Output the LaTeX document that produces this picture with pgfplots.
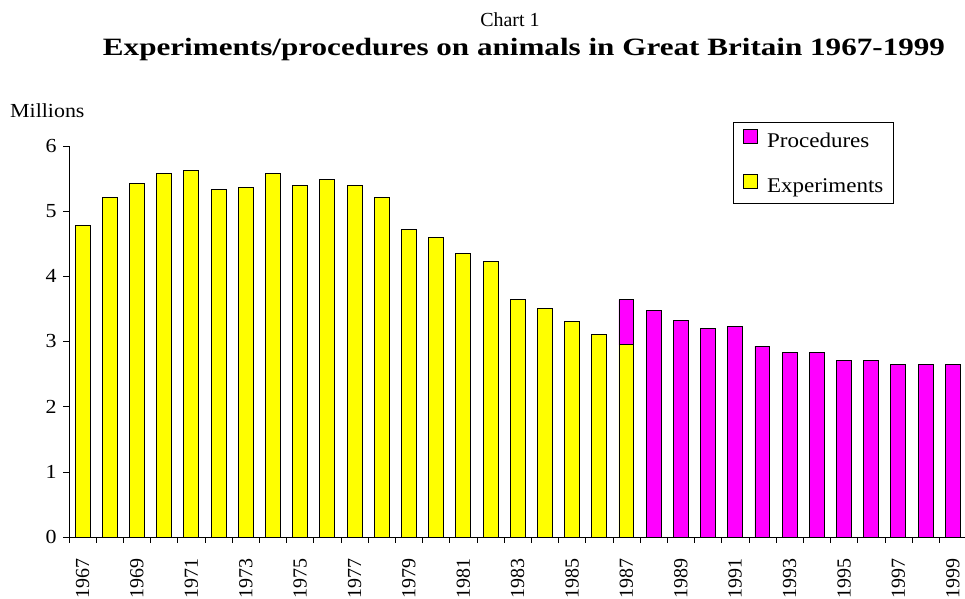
\documentclass[border=0pt]{standalone}
\usepackage{pgfplots}
\pgfplotsset{compat=1.18}
\usepackage{fontspec}
\setmainfont{Liberation Serif}
\newfontfamily\wide[FakeStretch=1.1]{Liberation Serif}
\definecolor{expyellow}{RGB}{255,255,0}
\definecolor{procmag}{RGB}{255,0,255}
\begin{document}
\begin{tikzpicture}[x=1bp,y=1bp]
\path[use as bounding box] (0,0) rectangle (965,599);
\begin{axis}[
  at={(69bp,62bp)}, anchor=south west,
  scale only axis, width=896bp, height=391bp,
  ybar stacked, bar width=0.55,
  xmin=-0.5, xmax=32.45, ymin=0, ymax=6,
  axis x line*=bottom, axis y line*=left,
  axis line style={black, line width=0.8pt},
  ytick={0,1,...,6},
  xtick={0,2,...,32},
  xticklabels={1967,1969,1971,1973,1975,1977,1979,1981,1983,1985,1987,1989,1991,1993,1995,1997,1999},
  minor xtick={-0.5,0.5,...,32.5},
  tick align=outside,
  major x tick style={draw=none},
  minor tick length=6bp,
  major tick length=6bp,
  tick style={black, line width=0.6pt},
  xticklabel style={rotate=90, anchor=east, xshift=-12bp, font=\fontsize{20}{23}\selectfont},
  yticklabel style={xshift=-3bp, font=\wide\fontsize{20}{24}\selectfont},
  /pgf/number format/assume math mode=true,
  legend style={at={(664bp,415bp)}, anchor=north west, draw=black, line width=0.6pt,
    font=\wide\fontsize{21}{25}\selectfont,
    nodes={inner sep=0pt, text height=15bp, text depth=4bp},
    /tikz/row sep=23bp, /tikz/column sep=9bp,
    inner xsep=10bp, inner ysep=7bp,
    legend cell align=left},
  legend image code/.code={\draw[#1, line width=0.8pt] (0bp,-2bp) rectangle (14bp,12bp);},
  reverse legend,
  clip=false,
]
\addplot[fill=expyellow, draw=black, line width=0.9pt] coordinates {
(0,4.78) (1,5.21) (2,5.43) (3,5.58) (4,5.62) (5,5.34) (6,5.37) (7,5.58) (8,5.40) (9,5.49)
(10,5.40) (11,5.21) (12,4.72) (13,4.60) (14,4.35) (15,4.23) (16,3.64) (17,3.51) (18,3.30) (19,3.11)
(20,2.95) (21,0) (22,0) (23,0) (24,0) (25,0) (26,0) (27,0) (28,0) (29,0) (30,0) (31,0) (32,0)};
\addlegendentry{Experiments}
\addplot[fill=procmag, draw=black, line width=0.9pt] coordinates {
(0,0) (1,0) (2,0) (3,0) (4,0) (5,0) (6,0) (7,0) (8,0) (9,0)
(10,0) (11,0) (12,0) (13,0) (14,0) (15,0) (16,0) (17,0) (18,0) (19,0)
(20,0.69) (21,3.48) (22,3.32) (23,3.20) (24,3.23) (25,2.93) (26,2.83) (27,2.83) (28,2.71) (29,2.71) (30,2.65) (31,2.65) (32,2.65)};
\addlegendentry{Procedures}
\end{axis}
\node[font=\fontsize{20}{23}\selectfont, anchor=base] at (510,572) {Chart 1};
\node[font=\bfseries\fontsize{25}{29}\selectfont, anchor=base, inner sep=0pt] at (524,543) {\resizebox{842bp}{\height}{Experiments/procedures on animals in Great Britain 1967-1999}};
\node[font=\wide\fontsize{20}{24}\selectfont, anchor=base west, inner sep=0pt] at (10,481) {Millions};
\end{tikzpicture}
\end{document}
